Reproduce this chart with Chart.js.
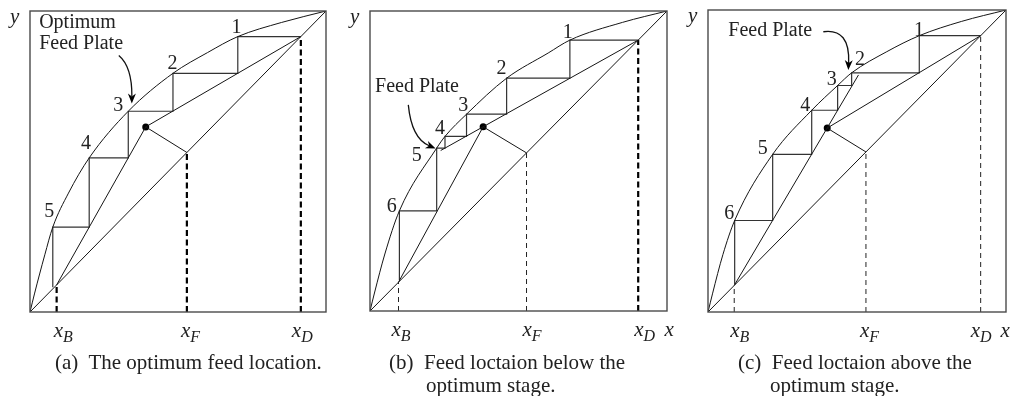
<!DOCTYPE html>
<html>
<head>
<meta charset="utf-8">
<script src="https://cdn.jsdelivr.net/npm/chart.js@4.4.1/dist/chart.umd.min.js"></script>
<style>
  body { margin: 0; background: #fff; width: 1010px; height: 396px; position: relative; overflow: hidden;
         font-family: "Liberation Serif", "Times New Roman", serif; color: #222; }
  canvas { position: absolute; top: 0; }
  .cap { position: absolute; font-size: 21px; line-height: 23px; white-space: nowrap; }
</style>
</head>
<body>
<canvas id="ca" width="338" height="396" style="left:0"></canvas>
<canvas id="cb" width="338" height="396" style="left:340px"></canvas>
<canvas id="cc" width="330" height="396" style="left:680px"></canvas>

<div class="cap" style="left:55px;top:351px">(a)&nbsp; The optimum feed location.</div>
<div class="cap" style="left:389px;top:351px">(b)&nbsp; Feed loctaion below the</div>
<div class="cap" style="left:426px;top:374px">optimum stage.</div>
<div class="cap" style="left:738px;top:351px">(c)&nbsp; Feed loctaion above the</div>
<div class="cap" style="left:770px;top:374px">optimum stage.</div>

<script>
// ---- data (x, y mole fractions) ----
// panel (a): optimum feed plate
const compA = [0.09, 0.53, 0.915];          // xB, xF, xD
const feedA = [0.391, 0.615];                // operating-line intersection
const eqA = [[0, 0], [0.015, 0.06], [0.05, 0.19], [0.077, 0.282], [0.13, 0.395], [0.2, 0.512],
             [0.332, 0.667], [0.483, 0.793], [0.6, 0.862], [0.702, 0.915], [0.85, 0.962], [1, 1]];
const stepsA = [[0.915, 0.915], [0.702, 0.915], [0.702, 0.793], [0.483, 0.793], [0.483, 0.667],
                [0.332, 0.667], [0.332, 0.512], [0.2, 0.512], [0.2, 0.282], [0.077, 0.282], [0.077, 0.082]];

// panel (b): feed below the optimum stage
const compB = [0.096, 0.527, 0.903];
const feedB = [0.381, 0.614];
const rectEndB = [0.238, 0.535];
const eqB = [[0, 0], [0.015, 0.06], [0.05, 0.19], [0.099, 0.334], [0.2245, 0.543], [0.2525, 0.582],
             [0.325, 0.656], [0.46, 0.776], [0.6, 0.86], [0.673, 0.903], [0.85, 0.962], [1, 1]];
const stepsB = [[0.903, 0.903], [0.673, 0.903], [0.673, 0.776], [0.46, 0.776], [0.46, 0.656],
                [0.325, 0.656], [0.325, 0.582], [0.2525, 0.582], [0.2525, 0.543], [0.2245, 0.543],
                [0.2245, 0.334], [0.099, 0.334], [0.099, 0.103]];

// panel (c): feed above the optimum stage
const compC = [0.088, 0.53, 0.915];
const feedC = [0.4, 0.609];
const stripEndC = [0.505, 0.785];
const eqC = [[0, 0], [0.015, 0.06], [0.05, 0.19], [0.0895, 0.303], [0.217, 0.522], [0.348, 0.668],
             [0.435, 0.75], [0.482, 0.792], [0.6, 0.862], [0.709, 0.915], [0.85, 0.962], [1, 1]];
const stepsC = [[0.915, 0.915], [0.709, 0.915], [0.709, 0.792], [0.482, 0.792], [0.482, 0.75],
                [0.435, 0.75], [0.435, 0.668], [0.348, 0.668], [0.348, 0.522], [0.217, 0.522],
                [0.217, 0.303], [0.0895, 0.303], [0.0895, 0.092]];

const compNames = ["B", "F", "D"];

const INK = "#151515";
const STEP = "#333";
const FRAME = "#4a4a4a";
const SERIF = '"Liberation Serif", "Times New Roman", serif';

const pts = (arr) => arr.map((p) => ({ x: p[0], y: p[1] }));

function line(data, extra) {
  return Object.assign({ type: "scatter", data: pts(data), showLine: true, pointRadius: 0,
    borderColor: INK, borderWidth: 1, fill: false }, extra || {});
}

function dashed(v, wide) {
  return line([[v, 0], [v, v]], wide
    ? { borderWidth: 2.2, borderDash: [6, 3.5], borderColor: "#000" }
    : { borderWidth: 1, borderDash: [5, 4], borderColor: "#222" });
}

// frame, stage numbers, notes, arrow and axis labels
function deco(p) {
  return {
    id: "deco",
    afterDatasetsDraw(chart) {
      const { ctx, chartArea: a, scales } = chart;
      const X = (v) => scales.x.getPixelForValue(v);
      const Y = (v) => scales.y.getPixelForValue(v);
      ctx.save();
      ctx.strokeStyle = FRAME; ctx.lineWidth = 1.4;
      ctx.strokeRect(a.left, a.top, a.right - a.left, a.bottom - a.top);

      ctx.fillStyle = "#222";
      ctx.font = `20px ${SERIF}`;
      ctx.textAlign = "center"; ctx.textBaseline = "middle";
      p.stageLab.forEach((q, i) => ctx.fillText(String(i + 1), X(q[0]), Y(q[1])));

      ctx.textAlign = "left";
      p.notes.forEach((n) => ctx.fillText(n[0], X(n[1]), Y(n[2])));

      // curved arrow
      const [s, c, t] = p.arrow.map((q) => [X(q[0]), Y(q[1])]);
      const ang = Math.atan2(t[1] - c[1], t[0] - c[0]);
      const back = [t[0] - 7 * Math.cos(ang), t[1] - 7 * Math.sin(ang)];
      ctx.strokeStyle = "#111"; ctx.lineWidth = 1.3;
      ctx.beginPath(); ctx.moveTo(s[0], s[1]); ctx.quadraticCurveTo(c[0], c[1], back[0], back[1]); ctx.stroke();
      ctx.beginPath();
      ctx.moveTo(t[0], t[1]);
      ctx.lineTo(t[0] - 10 * Math.cos(ang) + 4 * Math.sin(ang), t[1] - 10 * Math.sin(ang) - 4 * Math.cos(ang));
      ctx.lineTo(t[0] - 7 * Math.cos(ang), t[1] - 7 * Math.sin(ang));
      ctx.lineTo(t[0] - 10 * Math.cos(ang) - 4 * Math.sin(ang), t[1] - 10 * Math.sin(ang) + 4 * Math.cos(ang));
      ctx.closePath(); ctx.fillStyle = "#000"; ctx.fill();

      // axis labels
      ctx.fillStyle = "#222";
      ctx.textBaseline = "alphabetic"; ctx.textAlign = "left";
      ctx.font = `italic 21px ${SERIF}`;
      ctx.fillText("y", a.left - 20, a.top + 12);
      p.comp.forEach((v, i) => {
        const x0 = X(v) + p.labShift[i];
        ctx.font = `italic 21px ${SERIF}`;
        ctx.fillText("x", x0, a.bottom + 25);
        const w = ctx.measureText("x").width;
        ctx.font = `italic 16px ${SERIF}`;
        ctx.fillText(compNames[i], x0 + w, a.bottom + 30);
      });
      if (p.xLab != null) {
        ctx.font = `italic 21px ${SERIF}`;
        ctx.textAlign = "center";
        ctx.fillText("x", X(p.xLab), a.bottom + 25);
      }
      ctx.restore();
    },
  };
}

function panel(id, pad, p) {
  const [xb, xf, xd] = p.comp;
  const datasets = [
    line([[0, 0], [1, 1]]),
    line(p.eq, { cubicInterpolationMode: "monotone" }),
    line([[xd, xd], p.rectEnd]),
    line([[xb, xb], p.stripEnd]),
    line([[xf, xf], p.feed]),
    line(p.steps, { borderColor: STEP, borderWidth: 1.2 }),
    dashed(xb, p.wide[0]),
    dashed(xf, p.wide[1]),
    dashed(xd, p.wide[2]),
    { type: "scatter", data: pts([p.feed]), pointRadius: 3.5, backgroundColor: "#000", borderWidth: 0 },
  ];
  new Chart(document.getElementById(id), {
    type: "scatter",
    data: { datasets },
    options: {
      responsive: false, animation: false, devicePixelRatio: 1,
      layout: { padding: pad },
      plugins: { legend: { display: false }, tooltip: { enabled: false } },
      scales: {
        x: { type: "linear", min: 0, max: 1, display: false },
        y: { type: "linear", min: 0, max: 1, display: false },
      },
    },
    plugins: [deco(p)],
  });
}

panel("ca", { left: 30, top: 11, right: 12, bottom: 84 }, {
  comp: compA, feed: feedA, eq: eqA, steps: stepsA, rectEnd: feedA, stripEnd: feedA,
  wide: [true, true, true], labShift: [-3, -6, -9],
  stageLab: [[0.698, 0.943], [0.481, 0.826], [0.298, 0.684], [0.189, 0.558], [0.065, 0.333]],
  notes: [["Optimum", 0.031, 0.962], ["Feed Plate", 0.031, 0.891]],
  arrow: [[0.3, 0.852], [0.345, 0.815], [0.344, 0.693]],
  xLab: null,
});

panel("cb", { left: 30, top: 11, right: 11, bottom: 85 }, {
  comp: compB, feed: feedB, eq: eqB, steps: stepsB, rectEnd: rectEndB, stripEnd: feedB,
  wide: [false, false, true], labShift: [-7, -4, -4],
  stageLab: [[0.666, 0.926], [0.443, 0.806], [0.314, 0.683], [0.236, 0.606], [0.157, 0.517], [0.073, 0.346]],
  notes: [["Feed Plate", 0.017, 0.746]],
  arrow: [[0.129, 0.687], [0.14, 0.575], [0.221, 0.542]],
  xLab: 1.007,
});

panel("cc", { left: 28, top: 10, right: 4, bottom: 84 }, {
  comp: compC, feed: feedC, eq: eqC, steps: stepsC, rectEnd: feedC, stripEnd: stripEndC,
  wide: [false, false, false], labShift: [-4, -6, -10],
  stageLab: [[0.708, 0.931], [0.51, 0.834], [0.415, 0.768], [0.326, 0.682], [0.184, 0.54], [0.071, 0.324]],
  notes: [["Feed Plate", 0.068, 0.93]],
  arrow: [[0.387, 0.928], [0.477, 0.94], [0.471, 0.801]],
  xLab: 0.997,
});
</script>
</body>
</html>
